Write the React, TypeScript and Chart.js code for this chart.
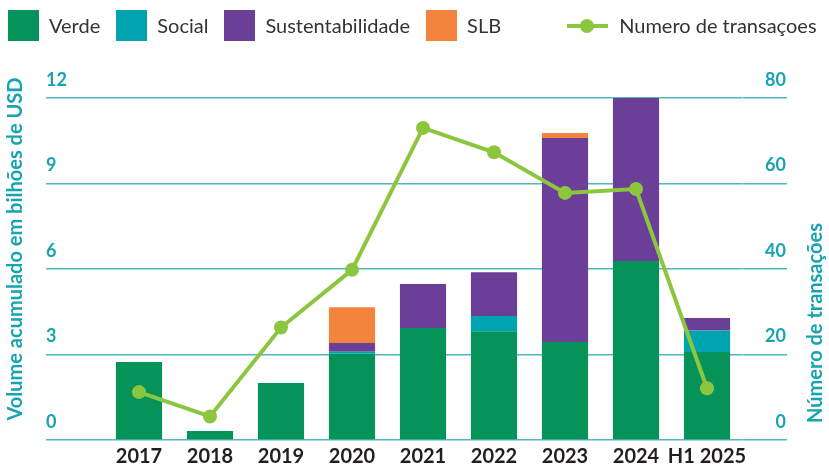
import React, { useEffect, useRef } from 'react';
import { Chart, registerables } from 'chart.js';

Chart.register(...registerables);

// ---- data ----
const categories = ['2017', '2018', '2019', '2020', '2021', '2022', '2023', '2024', 'H1 2025'];
const verde = [2.74, 0.32, 2.0, 3.03, 3.93, 3.82, 3.44, 6.28, 3.09];
const social = [0, 0, 0, 0.07, 0, 0.53, 0, 0, 0.75];
const sustentabilidade = [0, 0, 0, 0.3, 1.54, 1.54, 7.16, 5.72, 0.44];
const slb = [0, 0, 0, 1.26, 0, 0, 0.17, 0, 0];
const transacoes = [11.2, 5.5, 26.3, 39.8, 73, 67.3, 57.8, 58.7, 12.1];
const leftTicks = [0, 3, 6, 9, 12];
const rightTicks = [0, 20, 40, 60, 80];
const leftTitle = 'Volume acumulado em bilhões de USD';
const rightTitle = 'Número de transações';
const lineLabel = 'Numero de transaçoes';

// ---- styles ----
const GREEN = '#05935A';
const TEAL_BAR = '#00A4B0';
const PURPLE = '#6B3F97';
const ORANGE = '#F4843D';
const LIME = '#8CC63F';
const TEAL_TEXT = '#17A3B0';
const GRID = '#4DB8C2';
const FONT = 'Lato, "Open Sans", sans-serif';

const barSeries = [
  { label: 'Verde', data: verde, color: GREEN },
  { label: 'Social', data: social, color: TEAL_BAR },
  { label: 'Sustentabilidade', data: sustentabilidade, color: PURPLE },
  { label: 'SLB', data: slb, color: ORANGE },
];

const titlePlugin = {
  id: 'axisTitles',
  afterDraw(chart: any) {
    const ctx = chart.ctx;
    ctx.save();
    ctx.fillStyle = TEAL_TEXT;
    ctx.font = `bold 20px ${FONT}`;
    ctx.textAlign = 'center';
    ctx.textBaseline = 'middle';
    ctx.save();
    ctx.translate(16, 249);
    ctx.rotate(-Math.PI / 2);
    ctx.fillText(leftTitle, 0, 0);
    ctx.restore();
    ctx.save();
    ctx.translate(816, 323);
    ctx.rotate(-Math.PI / 2);
    ctx.fillText(rightTitle, 0, 0);
    ctx.restore();
    ctx.restore();
  },
};

export default function App() {
  const ref = useRef<HTMLCanvasElement | null>(null);

  useEffect(() => {
    if (!ref.current) return;
    const chart = new Chart(ref.current, {
      type: 'bar',
      data: {
        labels: categories,
        datasets: [
          {
            type: 'line',
            label: lineLabel,
            data: transacoes,
            yAxisID: 'y1',
            borderColor: LIME,
            backgroundColor: LIME,
            borderWidth: 4,
            pointRadius: 7,
            pointBackgroundColor: LIME,
            pointBorderWidth: 0,
            tension: 0,
            order: 0,
          } as any,
          ...barSeries.map((s) => ({
            type: 'bar',
            label: s.label,
            data: s.data,
            backgroundColor: s.color,
            borderWidth: 0,
            yAxisID: 'y',
            stack: 'a',
            barPercentage: 0.65,
            categoryPercentage: 1,
            order: 1,
          })),
        ],
      },
      options: {
        responsive: false,
        animation: false,
        layout: { padding: { top: 98, left: 46, right: 43, bottom: 0 } },
        plugins: { legend: { display: false }, tooltip: { enabled: false } },
        scales: {
          x: {
            stacked: true,
            offset: true,
            grid: { display: false },
            border: { display: false },
            ticks: {
              color: '#231F20',
              font: { family: FONT, size: 20, weight: 'bold' },
              padding: -3,
              maxRotation: 0,
              autoSkip: false,
            },
            afterFit: (s: any) => {
              s.height = 25;
            },
          },
          y: {
            stacked: true,
            position: 'left',
            min: leftTicks[0],
            max: leftTicks[leftTicks.length - 1],
            afterBuildTicks: (s: any) => {
              s.ticks = leftTicks.map((v) => ({ value: v }));
            },
            ticks: {
              color: TEAL_TEXT,
              font: { family: FONT, size: 18, weight: 'bold' },
              crossAlign: 'far',
              labelOffset: -18,
              padding: 0,
            },
            grid: { color: GRID, lineWidth: 1.5, tickLength: 57.5, tickColor: GRID, drawTicks: true },
            border: { display: false },
            afterFit: (s: any) => {
              s.width = 57.5;
            },
          },
          y1: {
            position: 'right',
            min: rightTicks[0],
            max: rightTicks[rightTicks.length - 1],
            afterBuildTicks: (s: any) => {
              s.ticks = rightTicks.map((v) => ({ value: v }));
            },
            ticks: {
              color: TEAL_TEXT,
              font: { family: FONT, size: 18, weight: 'bold' },
              crossAlign: 'far',
              labelOffset: -18,
              padding: 0,
            },
            grid: { drawOnChartArea: false, color: GRID, lineWidth: 1.5, tickLength: 44.5, tickColor: GRID, drawTicks: true },
            border: { display: false },
            afterFit: (s: any) => {
              s.width = 43.5;
            },
          },
        },
      } as any,
      plugins: [titlePlugin],
    });
    return () => chart.destroy();
  }, []);

  const legendText: React.CSSProperties = {
    fontFamily: FONT,
    fontSize: 20,
    color: '#333333',
    lineHeight: '31px',
    whiteSpace: 'nowrap',
  };

  return (
    <div style={{ position: 'absolute', left: 0, top: 0, width: 829, height: 465, background: '#fff' }}>
      <canvas ref={ref} width={829} height={465} style={{ position: 'absolute', left: 0, top: 0 }} />
      <div style={{ position: 'absolute', left: 8, top: 10, display: 'flex', alignItems: 'center', height: 31 }}>
        {barSeries.map((s) => (
          <div key={s.label} style={{ display: 'flex', alignItems: 'center', marginRight: 16 }}>
            <div style={{ width: 31, height: 31, background: s.color, marginRight: 10 }} />
            <span style={legendText}>{s.label}</span>
          </div>
        ))}
        <div style={{ display: 'flex', alignItems: 'center', marginLeft: 50 }}>
          <div style={{ position: 'relative', width: 41, height: 31, marginRight: 11 }}>
            <div style={{ position: 'absolute', left: 0, top: 14, width: 41, height: 4, background: LIME }} />
            <div style={{ position: 'absolute', left: 13, top: 9, width: 14, height: 14, borderRadius: 7, background: LIME }} />
          </div>
          <span style={legendText}>{lineLabel}</span>
        </div>
      </div>
    </div>
  );
}
